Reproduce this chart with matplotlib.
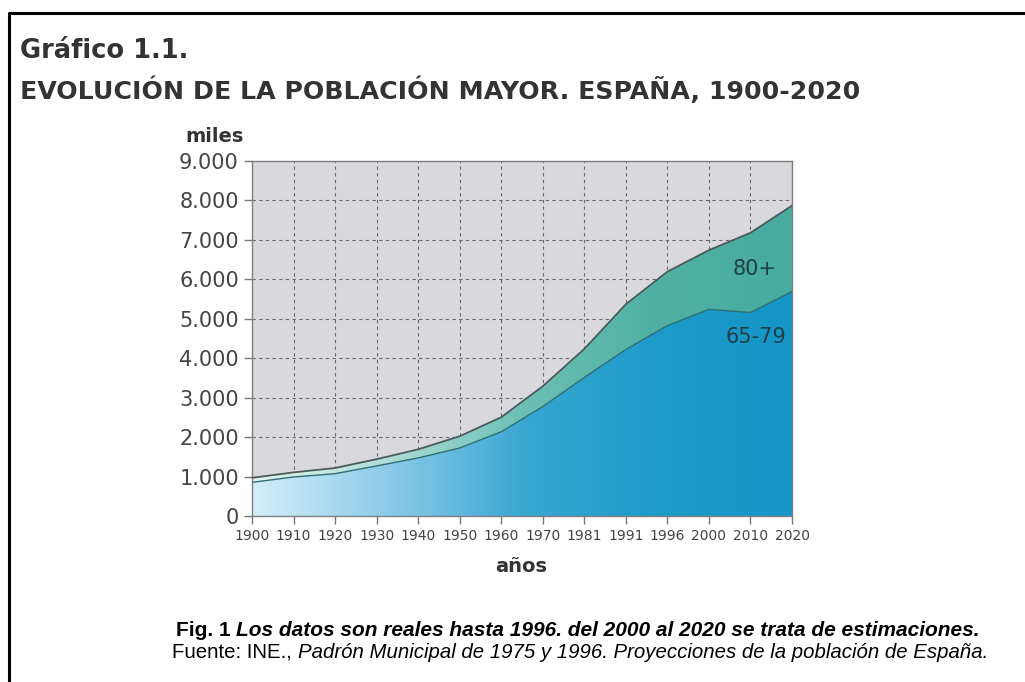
import numpy as np
import matplotlib
matplotlib.use('Agg')
import matplotlib.pyplot as plt
from matplotlib.colors import LinearSegmentedColormap
from matplotlib.lines import Line2D

# data (miles de personas)
years = ['1900', '1910', '1920', '1930', '1940', '1950', '1960', '1970',
         '1981', '1991', '1996', '2000', '2010', '2020']
edad_65_79 = [853, 989, 1073, 1270, 1472, 1724, 2136, 2775,
              3513, 4222, 4828, 5240, 5160, 5690]
edad_80 = [115, 117, 144, 171, 218, 299, 369, 516,
           724, 1148, 1368, 1500, 2020, 2180]
yticks = [0, 1000, 2000, 3000, 4000, 5000, 6000, 7000, 8000, 9000]
ytick_labels = ['0', '1.000', '2.000', '3.000', '4.000', '5.000',
                '6.000', '7.000', '8.000', '9.000']


def main():
    fig = plt.figure(figsize=(10.25, 6.82), dpi=100)
    fig.patch.set_facecolor('white')
    ax = fig.add_axes([0.2459, 0.2434, 0.5268, 0.5205])

    x = np.arange(len(years))
    low = np.array(edad_65_79, dtype=float)
    total = low + np.array(edad_80, dtype=float)

    ax.set_facecolor('#d9d9dd')
    ax.set_axisbelow(True)
    ax.grid(True, color='#6a6a6a', linestyle=(0, (3, 3)), linewidth=0.8)

    # horizontal gradients clipped to the filled areas
    cmap_low = LinearSegmentedColormap.from_list(
        'low', ['#d3eef9', '#8ccbe8', '#3aa7d3', '#1d9bcb', '#1596c6'])
    cmap_top = LinearSegmentedColormap.from_list(
        'top', ['#e4f4f0', '#acddd5', '#6cc0b5', '#50b0a4', '#48ab9f'])
    grad = np.linspace(0, 1, 256).reshape(1, -1)

    f1 = ax.fill_between(x, 0, low, facecolor='none', edgecolor='none')
    im1 = ax.imshow(grad, cmap=cmap_low, aspect='auto', zorder=2,
                    extent=[x[0], x[-1], 0, 9000], interpolation='bilinear')
    im1.set_clip_path(f1.get_paths()[0], transform=ax.transData)

    f2 = ax.fill_between(x, low, total, facecolor='none', edgecolor='none')
    im2 = ax.imshow(grad, cmap=cmap_top, aspect='auto', zorder=2,
                    extent=[x[0], x[-1], 0, 9000], interpolation='bilinear')
    im2.set_clip_path(f2.get_paths()[0], transform=ax.transData)

    ax.plot(x, total, color='#4d5a5a', linewidth=1.3, zorder=3)
    ax.plot(x, low, color='#2f6e72', linewidth=1.0, zorder=3)

    ax.set_xlim(x[0], x[-1])
    ax.set_ylim(0, 9000)
    ax.set_xticks(x)
    ax.set_xticklabels(years, fontsize=10, color='#444444', family='DejaVu Sans')
    ax.set_yticks(yticks)
    ax.set_yticklabels(ytick_labels, fontsize=15, color='#444444', family='DejaVu Sans')
    ax.tick_params(axis='both', direction='out', length=6, color='#777777', width=1)
    for s in ax.spines.values():
        s.set_color('#808080')
        s.set_linewidth(1.0)

    ax.text(12.1, 6250, '80+', fontsize=15, color='#1f3f48', ha='center', va='center', zorder=4)
    ax.text(12.12, 4530, '65-79', fontsize=15, color='#1f3f48', ha='center', va='center', zorder=4)

    fig.text(215 / 1025, 1 - 137 / 682, 'miles', fontsize=14, fontweight='bold',
             color='#333333', ha='center', va='center')
    fig.text(521 / 1025, 1 - 566 / 682, 'años', fontsize=14, fontweight='bold',
             color='#333333', ha='center', va='center')

    # titulo
    fig.text(20 / 1025, 1 - 51 / 682, 'Gráfico 1.1.', fontsize=18.5, fontweight='bold',
             color='#333333', ha='left', va='center', family='DejaVu Sans')
    fig.text(20 / 1025, 1 - 90 / 682, 'EVOLUCIÓN DE LA POBLACIÓN MAYOR. ESPAÑA, 1900-2020',
             fontsize=18.2, fontweight='bold', color='#333333', ha='left', va='center',
             family='DejaVu Sans')

    # marco
    fig.add_artist(Line2D([9 / 1025, 9 / 1025, 1.0], [0.0, 1 - 13 / 682, 1 - 13 / 682],
                          transform=fig.transFigure, color='black', linewidth=2.2))

    # pie de figura, con partes en negrita / cursiva
    renderer = fig.canvas.get_renderer()

    def line(pieces, y, xcenter, size):
        arts = []
        for txt, w, st in pieces:
            t = fig.text(0, y, txt, fontsize=size, fontweight=w, style=st,
                         family='Liberation Sans', color='black', va='baseline')
            arts.append(t)
        widths = [a.get_window_extent(renderer).width for a in arts]
        xpos = xcenter * 1025 - sum(widths) / 2
        for a, w in zip(arts, widths):
            a.set_x(xpos / 1025)
            xpos += w

    line([('Fig. 1 ', 'bold', 'normal'),
          ('Los datos son reales hasta 1996. del 2000 al 2020 se trata de estimaciones.',
           'bold', 'italic')], 1 - 636 / 682, 578 / 1025, 15)
    line([('Fuente: INE., ', 'normal', 'normal'),
          ('Padrón Municipal de 1975 y 1996. Proyecciones de la población de España.',
           'normal', 'italic')], 1 - 658 / 682, 580 / 1025, 14.7)

    fig.savefig('out.png', dpi=100)


if __name__ == '__main__':
    main()
